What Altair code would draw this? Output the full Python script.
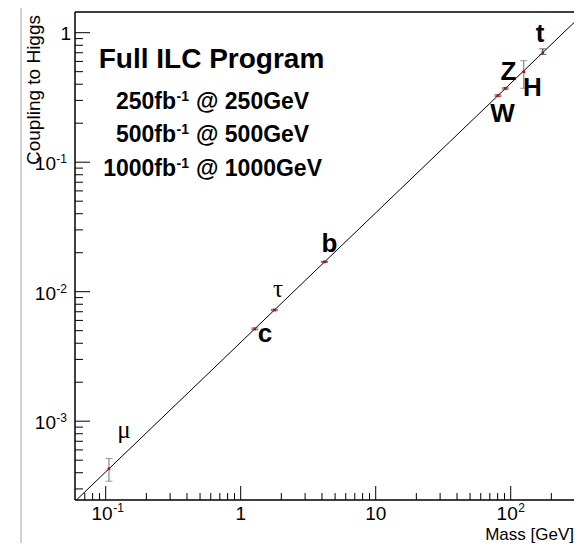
import altair as alt
import pandas as pd

# ---------------- data ----------------
particle = ["mu", "c", "tau", "b", "W", "Z", "H", "t"]
mass = [0.1057, 1.27, 1.777, 4.18, 80.4, 91.2, 125.0, 173.0]
coupling = [4.30e-4, 5.16e-3, 7.22e-3, 1.70e-2, 0.327, 0.371, 0.500, 0.703]
coupling_lo = [3.44e-4, 5.08e-3, 7.13e-3, 1.685e-2, 0.323, 0.367, 0.372, 0.680]
coupling_hi = [5.15e-4, 5.24e-3, 7.31e-3, 1.715e-2, 0.331, 0.375, 0.608, 0.750]

label_text = ["μ", "c", "τ", "b", "W", "Z", "H", "t"]
label_mass = [0.1367, 1.514, 1.889, 4.55, 86.9, 96.3, 145.0, 164.8]
label_coupling = [7.42e-4, 4.09e-3, 9.10e-3, 2.025e-2, 0.2055, 0.431, 0.3245, 0.848]
label_greek = [True, False, True, False, False, False, False, False]

line_mass = [0.05, 400.0]
line_coupling = [2.03e-4, 1.626]

x_major = [0.1, 1, 10, 100]
x_major_base = ["10", "1", "10", "10"]
x_major_exp = ["-1", "", "", "2"]
x_minor = [0.07, 0.08, 0.09,
           0.2, 0.3, 0.4, 0.5, 0.6, 0.7, 0.8, 0.9,
           2, 3, 4, 5, 6, 7, 8, 9,
           20, 30, 40, 50, 60, 70, 80, 90,
           200]

y_major = [1e-3, 1e-2, 1e-1, 1]
y_major_base = ["10", "10", "10", "1"]
y_major_exp = ["-3", "-2", "-1", ""]
y_minor = [3e-4, 4e-4, 5e-4, 6e-4, 7e-4, 8e-4, 9e-4,
           2e-3, 3e-3, 4e-3, 5e-3, 6e-3, 7e-3, 8e-3, 9e-3,
           2e-2, 3e-2, 4e-2, 5e-2, 6e-2, 7e-2, 8e-2, 9e-2,
           0.2, 0.3, 0.4, 0.5, 0.6, 0.7, 0.8, 0.9]

title_text = "Full ILC Program"
lumi_main = ["250fb", "500fb", "1000fb"]
lumi_sup = ["-1", "-1", "-1"]
lumi_rest = ["@ 250GeV", "@ 500GeV", "@ 1000GeV"]

x_title = "Mass [GeV]"
y_title = "Coupling to Higgs"

# ---------------- layout ----------------
W, H = 499, 488
FONT = "Liberation Sans"

xs = alt.Scale(type="log", domain=[0.05924, 294.3], nice=False)
ys = alt.Scale(type="log", domain=[2.463e-4, 1.4446], nice=False)

pts = pd.DataFrame({"particle": particle, "mass": mass, "coupling": coupling,
                    "lo": coupling_lo, "hi": coupling_hi})
labels = pd.DataFrame({"text": label_text, "mass": label_mass,
                       "coupling": label_coupling, "greek": label_greek})
line_df = pd.DataFrame({"mass": line_mass, "coupling": line_coupling})
xmaj = pd.DataFrame({"v": x_major, "base": x_major_base, "exp": x_major_exp})
xmin = pd.DataFrame({"v": x_minor})
ymaj = pd.DataFrame({"v": y_major, "base": y_major_base, "exp": y_major_exp})
ymin = pd.DataFrame({"v": y_minor})

X = lambda f: alt.X(f, type="quantitative", scale=xs, axis=None)
Y = lambda f: alt.Y(f, type="quantitative", scale=ys, axis=None)

layers = []

# page border line (gray)
layers.append(alt.Chart(pd.DataFrame({"a": [0]})).mark_rule(color="#d2d2d2", strokeWidth=2).encode(
    x=alt.value(-54), y=alt.value(-4), y2=alt.value(545)))

# frame
frame = alt.Chart(pd.DataFrame({"a": [0]}))
layers.append(frame.mark_rule(color="black", strokeWidth=1.5).encode(
    x=alt.value(0), y=alt.value(0), y2=alt.value(H)))
layers.append(frame.mark_rule(color="black", strokeWidth=1.5).encode(
    x=alt.value(0), x2=alt.value(W + 5), y=alt.value(0)))
layers.append(frame.mark_rule(color="black", strokeWidth=1.5).encode(
    x=alt.value(0), x2=alt.value(W + 5), y=alt.value(H)))

# ticks
layers.append(alt.Chart(xmaj).mark_rule(color="black", strokeWidth=1).encode(
    x=X("v"), y=alt.value(H), y2=alt.value(H - 14)))
layers.append(alt.Chart(xmin).mark_rule(color="black", strokeWidth=1).encode(
    x=X("v"), y=alt.value(H), y2=alt.value(H - 7)))
layers.append(alt.Chart(ymaj).mark_rule(color="black", strokeWidth=1).encode(
    y=Y("v"), x=alt.value(0), x2=alt.value(15)))
layers.append(alt.Chart(ymin).mark_rule(color="black", strokeWidth=1).encode(
    y=Y("v"), x=alt.value(0), x2=alt.value(8)))

# tick labels, x
xl = alt.Chart(xmaj)
layers.append(xl.transform_filter("datum.exp != ''").mark_text(
    font=FONT, fontSize=19, align="right", baseline="alphabetic", dx=7, color="black").encode(
    x=X("v"), y=alt.value(508), text="base:N"))
layers.append(xl.transform_filter("datum.exp != ''").mark_text(
    font=FONT, fontSize=12, align="left", baseline="alphabetic", dx=7.5, color="black").encode(
    x=X("v"), y=alt.value(500), text="exp:N"))
layers.append(xl.transform_filter("datum.exp == ''").mark_text(
    font=FONT, fontSize=19, align="center", baseline="alphabetic", color="black").encode(
    x=X("v"), y=alt.value(508), text="base:N"))

# tick labels, y
yl = alt.Chart(ymaj)
layers.append(yl.transform_filter("datum.exp != ''").mark_text(
    font=FONT, fontSize=19, align="right", baseline="alphabetic", dy=8, color="black").encode(
    y=Y("v"), x=alt.value(-19), text="base:N"))
layers.append(yl.transform_filter("datum.exp != ''").mark_text(
    font=FONT, fontSize=12, align="right", baseline="alphabetic", dy=1, color="black").encode(
    y=Y("v"), x=alt.value(-8), text="exp:N"))
layers.append(yl.transform_filter("datum.exp == ''").mark_text(
    font=FONT, fontSize=19, align="right", baseline="alphabetic", dy=7, color="black").encode(
    y=Y("v"), x=alt.value(-4), text="base:N"))

# axis titles
layers.append(frame.mark_text(font=FONT, fontSize=17, align="right", baseline="alphabetic",
                              color="black", text=x_title).encode(
    x=alt.value(W), y=alt.value(528)))
layers.append(frame.mark_text(font=FONT, fontSize=19, align="right", baseline="alphabetic",
                              angle=270, color="black", text=y_title).encode(
    x=alt.value(-35), y=alt.value(3)))

# theory line
layers.append(alt.Chart(line_df).mark_line(color="black", strokeWidth=1, clip=True).encode(
    x=X("mass"), y=Y("coupling")))

# error bars
bar_color = alt.condition("datum.particle == 'mu' || datum.particle == 'H'",
                          alt.value("#707070"), alt.value("#222222"))
pc = alt.Chart(pts)
layers.append(pc.mark_rule(strokeWidth=1).encode(
    x=X("mass"), y=Y("lo"), y2="hi", color=bar_color))
layers.append(pc.mark_tick(orient="horizontal", size=7, thickness=1).encode(
    x=X("mass"), y=Y("lo"), color=bar_color))
layers.append(pc.mark_tick(orient="horizontal", size=7, thickness=1).encode(
    x=X("mass"), y=Y("hi"), color=bar_color))
layers.append(pc.mark_point(filled=True, shape="square", size=7, color="#d40000", opacity=1).encode(
    x=X("mass"), y=Y("coupling")))

# particle labels
lc = alt.Chart(labels)
layers.append(lc.transform_filter("!datum.greek").mark_text(
    font=FONT, fontSize=26, fontWeight="bold", align="center", baseline="alphabetic", color="black").encode(
    x=X("mass"), y=Y("coupling"), text="text:N"))
layers.append(lc.transform_filter("datum.greek").mark_text(
    font="Liberation Serif", fontSize=25, align="center", baseline="alphabetic", color="black").encode(
    x=X("mass"), y=Y("coupling"), text="text:N"))

# program text block
layers.append(frame.mark_text(font=FONT, fontSize=28, fontWeight="bold", align="center",
                              baseline="alphabetic", color="black", text=title_text).encode(
    x=alt.value(136.5), y=alt.value(56)))
row_base = [97, 130, 164]
for i in range(3):
    yb = row_base[i]
    layers.append(frame.mark_text(font=FONT, fontSize=23, fontWeight="bold", align="right",
                                  baseline="alphabetic", color="black", text=lumi_main[i]).encode(
        x=alt.value(101), y=alt.value(yb)))
    layers.append(frame.mark_text(font=FONT, fontSize=14, fontWeight="bold", align="left",
                                  baseline="alphabetic", color="black", text=lumi_sup[i]).encode(
        x=alt.value(101.5), y=alt.value(yb - 8)))
    layers.append(frame.mark_text(font=FONT, fontSize=23, fontWeight="bold", align="left",
                                  baseline="alphabetic", color="black", text=lumi_rest[i]).encode(
        x=alt.value(121), y=alt.value(yb)))

chart = alt.layer(*layers).properties(
    width=W, height=H,
    autosize=alt.AutoSizeParams(type="none"),
    padding={"left": 67, "top": 4, "right": 0, "bottom": 43},
    background="white",
).configure_view(stroke=None)

chart.save("out.html", embed_options={"renderer": "svg", "actions": False})
